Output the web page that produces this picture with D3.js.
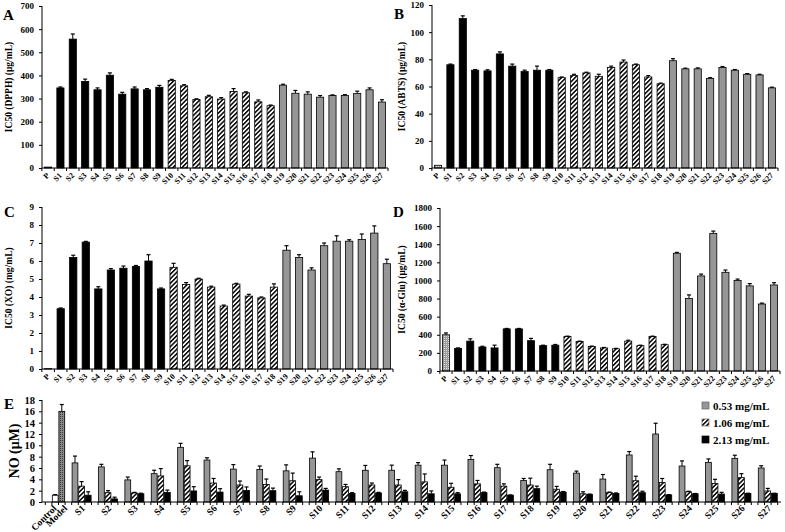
<!DOCTYPE html>
<html>
<head>
<meta charset="utf-8">
<title>IC50 and NO panels</title>
<script src="https://cdnjs.cloudflare.com/ajax/libs/d3/7.8.5/d3.min.js"></script>
<style>
body { margin: 0; background: #fff; }
text { font-family: "Liberation Serif", "Times New Roman", serif; font-weight: bold; fill: #000; }
</style>
</head>
<body>
<svg id="chart" width="785" height="532"></svg>
<script>
// sample names for panels A-D
var cats = ["P", "S1", "S2", "S3", "S4", "S5", "S6", "S7", "S8", "S9", "S10", "S11", "S12", "S13",
  "S14", "S15", "S16", "S17", "S18", "S19", "S20", "S21", "S22", "S23", "S24", "S25", "S26", "S27"];

var dpph    = [4, 346, 557, 374, 338, 401, 319, 342, 338, 349, 378, 355, 296, 308, 298, 331, 325, 286, 269, 358, 323, 319, 306, 313, 313, 322, 338, 285];
var dpphErr = [0, 4, 22, 10, 8, 10, 8, 8, 5, 8, 5, 5, 3, 6, 6, 12, 4, 8, 3, 4, 12, 10, 7, 3, 4, 10, 8, 10];

var abts    = [2, 76, 110, 72, 71.5, 84, 75, 71, 72, 72, 66.5, 68, 70, 67.5, 74, 78, 76, 67, 62, 79, 73, 73, 66, 74, 72, 69, 68.5, 59];
var abtsErr = [0, 0.5, 2, 0.5, 0.8, 1.5, 1.5, 1, 3, 0.5, 0.5, 1, 0.5, 1.5, 1, 1.5, 0.5, 1, 0.5, 1.5, 0.5, 0.7, 0.5, 0.7, 0.5, 0.5, 0.5, 0.5];

var xo    = [0.02, 3.35, 6.2, 7.05, 4.45, 5.5, 5.6, 5.7, 6.0, 4.45, 5.65, 4.7, 5.0, 4.55, 3.5, 4.72, 4.05, 3.95, 4.55, 6.6, 6.2, 5.5, 6.85, 7.1, 7.1, 7.2, 7.55, 5.85];
var xoErr = [0, 0.04, 0.12, 0.04, 0.12, 0.08, 0.12, 0.05, 0.35, 0.05, 0.22, 0.1, 0.04, 0.05, 0.05, 0.04, 0.1, 0.05, 0.18, 0.25, 0.15, 0.12, 0.15, 0.3, 0.08, 0.3, 0.4, 0.25];

var glu    = [400, 250, 330, 265, 255, 465, 465, 335, 280, 285, 380, 325, 270, 255, 245, 330, 280, 380, 290, 1300, 800, 1050, 1520, 1090, 1000, 940, 740, 950];
var gluErr = [20, 5, 25, 8, 30, 5, 5, 25, 5, 8, 5, 5, 5, 5, 5, 10, 5, 5, 5, 10, 40, 20, 25, 25, 15, 25, 10, 25];

// panel E
var noGroups = ["", "S1", "S2", "S3", "S4", "S5", "S6", "S7", "S8", "S9", "S10", "S11", "S12", "S13",
  "S14", "S15", "S16", "S17", "S18", "S19", "S20", "S21", "S22", "S23", "S24", "S25", "S26", "S27"];
var seriesNames = ["0.53 mg/mL", "1.06 mg/mL", "2.13 mg/mL"];
var controlNo = [1.2, 0.1];
var modelNo = [16.0, 1.2];
var no053    = [6.9, 6.2, 3.9, 5.0, 9.65, 7.4, 5.8, 5.75, 5.5, 7.75, 5.35, 5.6, 5.6, 6.5, 6.5, 7.5, 6.05, 3.8, 5.7, 5.1, 4.05, 8.3, 12.0, 6.35, 7.0, 7.7, 6.0];
var no053Err = [1.2, 0.45, 0.5, 0.6, 0.7, 0.4, 0.8, 0.6, 1.05, 1.1, 0.5, 0.85, 0.9, 0.45, 0.9, 0.7, 0.6, 0.35, 0.95, 0.35, 0.8, 0.6, 1.9, 0.9, 0.6, 0.55, 0.4];
var no106    = [2.8, 1.65, 1.6, 4.6, 6.4, 3.35, 3.0, 3.1, 3.75, 3.95, 2.7, 3.0, 3.0, 3.55, 2.6, 3.2, 2.8, 3.0, 2.25, 1.45, 1.65, 3.75, 3.45, 1.8, 3.25, 4.3, 1.95];
var no106Err = [0.8, 0.35, 0.1, 1.3, 0.9, 0.8, 0.7, 0.95, 1.35, 0.45, 0.4, 0.35, 0.95, 1.4, 0.7, 0.6, 0.4, 1.2, 0.5, 0.35, 0.1, 0.8, 0.7, 0.1, 0.75, 0.7, 0.45];
var no213    = [1.2, 0.55, 1.45, 1.7, 1.95, 1.75, 2.05, 2.0, 1.1, 2.1, 1.5, 1.6, 1.8, 1.45, 1.45, 1.65, 1.2, 2.35, 1.75, 1.35, 1.5, 1.65, 1.25, 1.45, 1.4, 1.5, 1.5];
var no213Err = [0.6, 0.3, 0.1, 0.4, 0.75, 0.6, 0.6, 0.45, 0.7, 0.3, 0.15, 0.1, 0.25, 0.5, 0.2, 0.1, 0.05, 0.45, 0.1, 0.05, 0.1, 0.25, 0.05, 0.05, 0.3, 0.05, 0.05];

var svg = d3.select('#chart');
var defs = svg.append('defs');

// diagonal hatch
var hatch = defs.append('pattern').attr('id', 'hatch').attr('patternUnits', 'userSpaceOnUse')
  .attr('width', 3.2).attr('height', 3.2).attr('patternTransform', 'rotate(45)');
hatch.append('rect').attr('width', 3.2).attr('height', 3.2).attr('fill', '#fff');
hatch.append('rect').attr('width', 1.5).attr('height', 3.2).attr('fill', '#000');

// dotted dark (model)
var dots = defs.append('pattern').attr('id', 'dots').attr('patternUnits', 'userSpaceOnUse')
  .attr('width', 2).attr('height', 2);
dots.append('rect').attr('width', 2).attr('height', 2).attr('fill', '#8a8a8a');
dots.append('rect').attr('width', 1).attr('height', 1).attr('fill', '#333');

// light dotted (P)
var ldots = defs.append('pattern').attr('id', 'ldots').attr('patternUnits', 'userSpaceOnUse')
  .attr('width', 2).attr('height', 2);
ldots.append('rect').attr('width', 2).attr('height', 2).attr('fill', '#9a9a9a');
ldots.append('rect').attr('width', 1).attr('height', 1).attr('fill', '#e0e0e0');

var GRAY = '#969696';

function fillFor(i) {
  if (i === 0) return 'url(#ldots)';
  if (i <= 9) return '#000';
  if (i <= 18) return 'url(#hatch)';
  return GRAY;
}

function errBar(g, x, yTop, yErr, w) {
  g.append('line').attr('x1', x).attr('x2', x).attr('y1', yTop).attr('y2', yErr)
    .attr('stroke', '#000').attr('stroke-width', 1);
  g.append('line').attr('x1', x - w / 2).attr('x2', x + w / 2).attr('y1', yErr).attr('y2', yErr)
    .attr('stroke', '#000').attr('stroke-width', 1.2);
}

function panel(cfg) {
  var g = svg.append('g');
  var x = d3.scaleBand().domain(cats).range([cfg.x0, cfg.x1]).paddingInner(0.42).paddingOuter(0.2);
  var y = d3.scaleLinear().domain([0, cfg.max]).range([cfg.y1, cfg.y0]);

  var yAxis = d3.axisLeft(y).tickValues(d3.range(0, cfg.max + cfg.step / 2, cfg.step))
    .tickSize(3).tickPadding(5).tickFormat(d3.format('d'));
  var ya = g.append('g').attr('transform', 'translate(' + cfg.x0 + ',0)').call(yAxis);
  ya.selectAll('text').style('font-size', '9px').style('font-family', '"Liberation Serif", serif').style('font-weight', 'bold');
  ya.select('.domain').attr('d', 'M0,' + cfg.y0 + 'V' + cfg.y1);

  // bars
  cats.forEach(function (c, i) {
    var bx = x(c), bw = x.bandwidth();
    var v = cfg.values[i];
    g.append('rect').attr('x', bx).attr('y', y(v)).attr('width', bw).attr('height', cfg.y1 - y(v))
      .attr('fill', fillFor(i)).attr('stroke', '#000').attr('stroke-width', 0.8);
    if (cfg.errs[i] > 0) errBar(g, bx + bw / 2, y(v), y(v + cfg.errs[i]), 4);
  });

  // x axis with ticks between bars
  g.append('line').attr('x1', cfg.x0).attr('x2', cfg.x1).attr('y1', cfg.y1).attr('y2', cfg.y1).attr('stroke', '#000');
  var step = x.step();
  cats.forEach(function (c, i) {
    var tx = x(c) - step * x.paddingInner() / 2;
    g.append('line').attr('x1', tx).attr('x2', tx).attr('y1', cfg.y1).attr('y2', cfg.y1 + 3).attr('stroke', '#000');
  });
  g.append('line').attr('x1', cfg.x1).attr('x2', cfg.x1).attr('y1', cfg.y1).attr('y2', cfg.y1 + 3).attr('stroke', '#000');

  cats.forEach(function (c) {
    var cx = x(c) + x.bandwidth() / 2 + 2;
    g.append('text').attr('transform', 'translate(' + cx + ',' + (cfg.y1 + 8) + ') rotate(-45)')
      .attr('text-anchor', 'end').style('font-size', '8px').text(c);
  });

  g.append('text').attr('transform', 'translate(' + cfg.titleX + ',' + ((cfg.y0 + cfg.y1) / 2) + ') rotate(-90)')
    .attr('text-anchor', 'middle').style('font-size', '9.5px').text(cfg.title);
  g.append('text').attr('x', cfg.letterX).attr('y', cfg.letterY).style('font-size', '15px').text(cfg.letter);
}

panel({ x0: 42, x1: 388, y0: 6, y1: 168, max: 700, step: 100, values: dpph, errs: dpphErr,
  title: 'IC50 (DPPH) (μg/mL)', titleX: 12, letter: 'A', letterX: 3, letterY: 20 });
panel({ x0: 432, x1: 778, y0: 5, y1: 168, max: 120, step: 20, values: abts, errs: abtsErr,
  title: 'IC50 (ABTS) (μg/mL)', titleX: 405, letter: 'B', letterX: 394, letterY: 19 });
panel({ x0: 42, x1: 393, y0: 207, y1: 369, max: 9, step: 1, values: xo, errs: xoErr,
  title: 'IC50 (XO) (mg/mL)', titleX: 12, letter: 'C', letterX: 4, letterY: 217 });
panel({ x0: 440, x1: 780, y0: 208, y1: 371, max: 1800, step: 200, values: glu, errs: gluErr,
  title: 'IC50 (α-Glu) (μg/mL)', titleX: 405, letter: 'D', letterX: 393, letterY: 217 });

// ---- panel E ----
(function () {
  var x0 = 42, x1 = 781, y0 = 400, y1 = 502;
  var g = svg.append('g');
  var x = d3.scalePoint().domain(noGroups).range([x0, x1]).padding(0.5);
  var slot = x.step() / 4;
  var bw = slot * 0.88;
  var y = d3.scaleLinear().domain([0, 18]).range([y1, y0]);

  var ya = g.append('g').attr('transform', 'translate(' + x0 + ',0)')
    .call(d3.axisLeft(y).tickValues(d3.range(0, 19, 2)).tickSize(3).tickPadding(4));
  ya.selectAll('text').style('font-size', '10.5px').style('font-family', '"Liberation Serif", serif').style('font-weight', 'bold');
  ya.select('.domain').attr('d', 'M0,' + y0 + 'V' + y1);

  function bar(cx, v, e, fill) {
    g.append('rect').attr('x', cx - bw / 2).attr('y', y(v)).attr('width', bw).attr('height', y1 - y(v))
      .attr('fill', fill).attr('stroke', '#000').attr('stroke-width', 0.8);
    errBar(g, cx, y(v), y(v + e), 4);
  }

  var c0 = x('');
  bar(c0, controlNo[0], controlNo[1], '#fff');
  bar(c0 + slot, modelNo[0], modelNo[1], 'url(#dots)');

  var fills = [GRAY, 'url(#hatch)', '#000'];
  var sets = [[no053, no053Err], [no106, no106Err], [no213, no213Err]];
  noGroups.slice(1).forEach(function (grp, i) {
    var c = x(grp);
    sets.forEach(function (s, k) {
      bar(c + (k - 1) * slot, s[0][i], s[1][i], fills[k]);
    });
  });

  g.append('line').attr('x1', x0).attr('x2', x1).attr('y1', y1).attr('y2', y1).attr('stroke', '#000');
  noGroups.forEach(function (grp) {
    var c = x(grp);
    [-1.5, -0.5, 0.5, 1.5].forEach(function (k) {
      g.append('line').attr('x1', c + k * slot).attr('x2', c + k * slot).attr('y1', y1).attr('y2', y1 + 3).attr('stroke', '#000');
    });
  });

  function lab(cx, t) {
    g.append('text').attr('transform', 'translate(' + cx + ',' + (y1 + 7) + ') rotate(-45)')
      .attr('text-anchor', 'end').style('font-size', '9.5px').text(t);
  }
  lab(c0 + 2, 'Control');
  lab(c0 + slot + 6, 'Model');
  noGroups.slice(1).forEach(function (grp) { lab(x(grp) + 4, grp); });

  g.append('text').attr('transform', 'translate(19,' + ((y0 + y1) / 2) + ') rotate(-90)')
    .attr('text-anchor', 'middle').style('font-size', '14px').text('NO (μM)');
  g.append('text').attr('x', 4).attr('y', 409).style('font-size', '15px').text('E');

  // legend
  var lg = g.append('g').attr('transform', 'translate(702,402)');
  seriesNames.forEach(function (n, k) {
    var ly = k * 17;
    lg.append('rect').attr('x', 0).attr('y', ly).attr('width', 7).attr('height', 7)
      .attr('fill', fills[k]).attr('stroke', k === 2 ? '#000' : '#666').attr('stroke-width', 0.7);
    lg.append('text').attr('x', 11).attr('y', ly + 7.5).style('font-size', '11px').text(n);
  });
})();
</script>
</body>
</html>
